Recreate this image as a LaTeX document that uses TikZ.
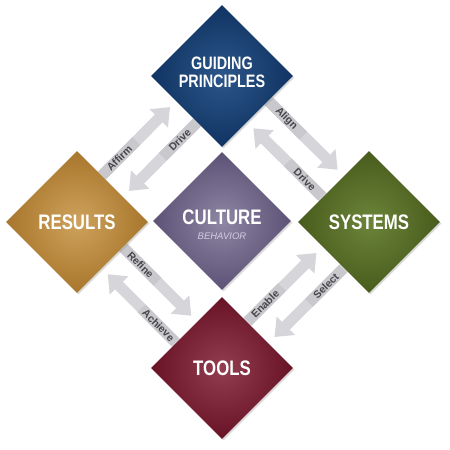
\documentclass[tikz,border=0pt]{standalone}
\usepackage{fontspec}
\usepackage{xcolor}
\usepackage{tikz}
\usetikzlibrary{shapes,shadows}
\usetikzlibrary{backgrounds}
\usetikzlibrary{calc}
\usetikzlibrary{arrows.meta}

\newfontfamily\headfont[FakeStretch=0.8]{Liberation Sans}
\newfontfamily\tagfont{Liberation Sans}

\definecolor{gpOut}{RGB}{16,52,98}
\definecolor{gpIn}{RGB}{44,86,138}
\definecolor{resOut}{RGB}{168,118,44}
\definecolor{resIn}{RGB}{206,162,92}
\definecolor{sysOut}{RGB}{72,92,28}
\definecolor{sysIn}{RGB}{108,132,58}
\definecolor{toolOut}{RGB}{104,18,38}
\definecolor{toolIn}{RGB}{146,62,80}
\definecolor{culOut}{RGB}{92,82,118}
\definecolor{culIn}{RGB}{142,134,164}
\definecolor{behav}{RGB}{210,204,226}
\definecolor{flowgray}{RGB}{214,214,218}
\definecolor{taggray}{RGB}{200,200,205}
\definecolor{tagtext}{RGB}{70,70,74}

\begin{document}
\begin{tikzpicture}[x=1pt,y=1pt]%%diamonds

                \tikzstyle{tile} = [diamond, aspect=1, inner sep=0pt, minimum width=142pt, minimum height=142pt, text=white, align=center,
                        drop shadow={opacity=0.3, shadow xshift=1.5pt, shadow yshift=-1.5pt}, font=\headfont\bfseries\fontsize{21}{21}\selectfont]
                \tikzstyle{flow} = [line width=11pt, draw=flowgray, -{Triangle[width=25pt,length=16pt]}]
                \tikzstyle{tag}  = [fill=taggray, text=tagtext, inner sep=0pt, minimum height=11pt, minimum width=48pt, font=\tagfont\bfseries\fontsize{10.5}{10.5}\selectfont]

                \useasboundingbox (0,0) rectangle (450,450);

                \node [tile, inner color=gpIn, outer color=gpOut, text depth=8pt, font=\headfont\bfseries\fontsize{18}{18}\selectfont](T) at (222,374) {GUIDING\\PRINCIPLES};
                \node [tile, inner color=resIn, outer color=resOut](L) at (77,228) {RESULTS};
                \node [tile, inner color=sysIn, outer color=sysOut](R) at (369,228) {SYSTEMS};
                \node [tile, inner color=toolIn, outer color=toolOut](B) at (222,82) {TOOLS};
                \node [tile, inner color=culIn, outer color=culOut, text depth=7pt, minimum width=138pt, minimum height=138pt](C) at (222,229) {CULTURE};
                \node [text=behav, font=\tagfont\itshape\fontsize{9.5}{9.5}\selectfont](behav) at ($(C)+(0,-15)$) {BEHAVIOR};

                \begin{scope}[on background layer]
                \foreach \a/\b/\txt/\ang in {L/T/Affirm/45, T/L/Drive/45, T/R/Align/-45, R/T/Drive/-45,
                                             L/B/Refine/-45, B/L/Achieve/-45, B/R/Enable/45, R/B/Select/45}{
                        \draw [flow] ($(\a)!0.24!(\b)!15pt!90:(\b)$) -- ($(\a)!0.715!(\b)!15pt!90:(\b)$);
                        \node [tag, rotate=\ang](tag\a\b) at ($(\a)!0.365!(\b)!15pt!90:(\b)$) {\txt};
                }
                \end{scope}
\end{tikzpicture}
\end{document}
